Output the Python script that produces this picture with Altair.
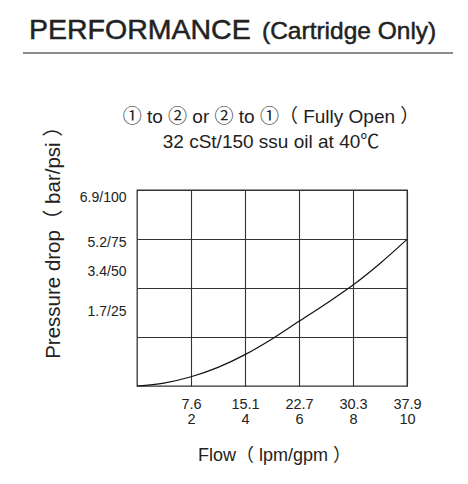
import json
import altair as alt
import pandas as pd

# ---- data ----
flow_gpm = [0, 1, 2, 3, 4, 5, 6, 7, 8, 9, 10]
drop_psi = [0, 1.5, 4.7, 9.5, 16, 24, 33, 42, 51.5, 62.5, 74.8]

x_ticks_gpm = [2, 4, 6, 8, 10]
x_ticks_lpm = ["7.6", "15.1", "22.7", "30.3", "37.9"]
y_ticks_psi = [25, 50, 75, 100]
y_ticks_bar = ["1.7", "3.4", "5.2", "6.9"]

title_main = "PERFORMANCE"
title_part = "(Cartridge Only)"
sub_line1 = "① to ② or ②  to ①（ Fully Open ）"
sub_line2 = "32 cSt/150 ssu oil at 40℃"
x_title = "Flow（ lpm/gpm ）"
y_title = "Pressure drop（ bar/psi ）"

FONT = "Liberation Sans, Noto Sans CJK SC"
INK = "#222"
GRID = "#333"

df = pd.DataFrame({"gpm": flow_gpm, "psi": drop_psi})

x_label_expr = (
    "[" + json.dumps(x_ticks_lpm) + "[indexof(" + json.dumps(x_ticks_gpm)
    + ", datum.value)], datum.label]"
)
y_label_expr = (
    json.dumps(y_ticks_bar) + "[indexof(" + json.dumps(y_ticks_psi)
    + ", datum.value)] + '/' + datum.label"
)

line = alt.Chart(df).mark_line(
    color="#111", strokeWidth=1.2, interpolate="monotone"
).encode(
    x=alt.X(
        "gpm:Q",
        scale=alt.Scale(domain=[0, 10], nice=False, zero=True),
        axis=alt.Axis(
            values=x_ticks_gpm, grid=True, gridColor=GRID, gridWidth=1.1,
            gridOpacity=1, domain=False, ticks=False,
            labelExpr=x_label_expr, labelFontSize=14.5, labelLineHeight=15,
            labelPadding=11, labelBaseline="top", labelFlush=False,
            labelColor=INK, labelFont=FONT,
            title=x_title, titleFontSize=18, titleFontWeight="normal",
            titleFont=FONT, titleColor=INK, titleX=137, titleY=74,
            titleBaseline="alphabetic", titleAlign="center",
        ),
    ),
    y=alt.Y(
        "psi:Q",
        scale=alt.Scale(domain=[0, 100], nice=False, zero=True),
        axis=alt.Axis(
            values=y_ticks_psi, grid=True, gridColor=GRID, gridWidth=1.1,
            gridOpacity=1, domain=False, ticks=False,
            labelExpr=y_label_expr, labelFontSize=14, labelPadding=11,
            labelBaseline="middle", labelFlush=False,
            labelOffset={
                "condition": [
                    {"test": "datum.value === 100", "value": 7},
                    {"test": "datum.value === 75", "value": 3},
                    {"test": "datum.value === 50", "value": -17},
                ],
                "value": -26,
            },
            labelColor=INK, labelFont=FONT,
            title=y_title, titleFontSize=20.5, titleFontWeight="normal",
            titleFont=FONT, titleColor=INK, titleX=-78, titleY=47,
            titleBaseline="alphabetic", titleAlign="center", titleAngle=270,
        ),
    ),
)

one = alt.Data(values=[{}])


def label(text, x, y, size, align, heavy=0.0):
    return alt.Chart(one).mark_text(
        font=FONT, fontSize=size, color=INK, align=align, baseline="alphabetic",
        stroke=INK, strokeWidth=heavy, strokeOpacity=1 if heavy else 0,
    ).encode(x=alt.value(x), y=alt.value(y), text=alt.value(text))


head1 = label(title_main, -108, -151.5, 28.5, "left", 0.5)
head2 = label(title_part, 125, -151.5, 24.5, "left", 0.5)
sub1 = label(sub_line1, 134, -67, 19, "center")
sub2 = label(sub_line2, 134, -42, 19, "center")
rule = alt.Chart(one).mark_rule(color="#666", strokeWidth=1.5).encode(
    x=alt.value(-114), x2=alt.value(316), y=alt.value(-137)
)

chart = alt.layer(line, head1, head2, sub1, sub2, rule).properties(
    width=270,
    height=196,
    autosize=alt.AutoSizeParams(type="none"),
    padding={"left": 129, "top": 182, "right": 50, "bottom": 85},
    background="white",
).configure_view(
    stroke=GRID, strokeWidth=1.3
)

chart.save("out.html", embed_options={"renderer": "svg", "actions": False})
